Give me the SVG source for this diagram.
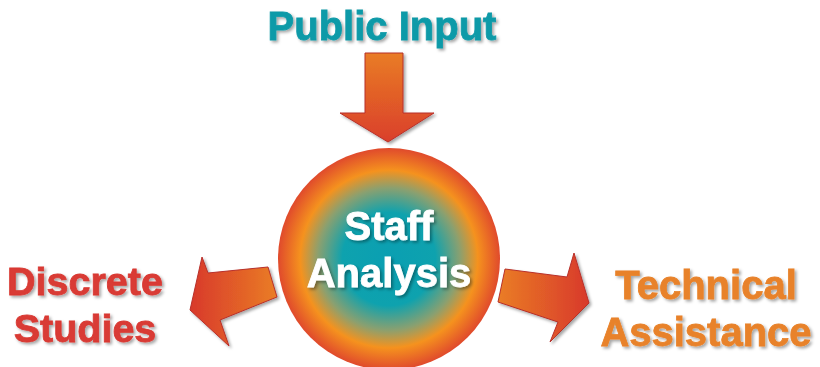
<svg xmlns="http://www.w3.org/2000/svg" width="820" height="367" viewBox="0 0 820 367">
<defs>
<radialGradient id="circ" cx="0.5" cy="0.5" r="0.5">
<stop offset="0" stop-color="#0a9fb2"/>
<stop offset="0.42" stop-color="#0ea2ae"/>
<stop offset="0.64" stop-color="#8aa070"/>
<stop offset="0.8" stop-color="#f5921e"/>
<stop offset="1" stop-color="#e04a2c"/>
</radialGradient>
<linearGradient id="down" x1="0" y1="0" x2="0" y2="1">
<stop offset="0" stop-color="#e97c25"/>
<stop offset="1" stop-color="#da3f2b"/>
</linearGradient>
<linearGradient id="left" x1="0" y1="0" x2="1" y2="0">
<stop offset="0" stop-color="#d8392b"/>
<stop offset="1" stop-color="#ea7d26"/>
</linearGradient>
<linearGradient id="right" x1="0" y1="0" x2="1" y2="0">
<stop offset="0" stop-color="#ea7d26"/>
<stop offset="1" stop-color="#d8392b"/>
</linearGradient>
<filter id="sh" x="-10%" y="-10%" width="130%" height="140%">
<feDropShadow dx="2" dy="2" stdDeviation="1.5" flood-color="#000" flood-opacity="0.35"/>
</filter>
</defs>
<style>
.t{font-family:"Liberation Sans",Arial,sans-serif;font-weight:bold;font-size:40px;text-anchor:middle;filter:url(#sh);stroke-width:0.8px}
.a{stroke:#b8302a;stroke-width:1;stroke-linejoin:miter;filter:url(#sh)}
</style>
<g id="connectors">
<polygon class="a" fill="url(#down)" points="365,53 403,53 403,113 434,113 388,142 340,113 365,113"/>
<polygon class="a" fill="url(#left)" points="202,257 208,273 268,267 277,297 220,320 229,346 190,310"/>
<polygon class="a" fill="url(#right)" points="505,269 567,277 574,253 589,303 550,342 558,322 498,302"/>
</g>
<g id="staff-analysis">
<circle cx="389" cy="259" r="111" fill="url(#circ)"/>
<text class="t" x="389" y="240" fill="#ffffff" stroke="#ffffff">Staff</text>
<text class="t" x="389" y="287" fill="#ffffff" stroke="#ffffff">Analysis</text>
</g>
<g id="public-input">
<text class="t" x="382" y="40" fill="#0f9aa8" stroke="#0f9aa8">Public Input</text>
</g>
<g id="discrete-studies">
<text class="t" x="85" y="295" fill="#d93a34" stroke="#d93a34" style="font-size:39.5px">Discrete</text>
<text class="t" x="85" y="342" fill="#d93a34" stroke="#d93a34" style="font-size:39.5px">Studies</text>
</g>
<g id="technical-assistance">
<text class="t" x="706" y="299" fill="#e8822a" stroke="#e8822a">Technical</text>
<text class="t" x="706" y="346" fill="#e8822a" stroke="#e8822a">Assistance</text>
</g>
</svg>
